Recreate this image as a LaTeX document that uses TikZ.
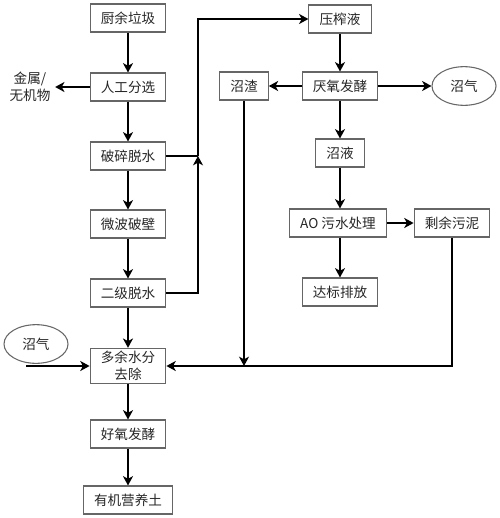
\documentclass[tikz,border=0pt]{standalone}
\usepackage{fontspec}
\setmainfont{Noto Sans CJK SC}
\usetikzlibrary{arrows.meta,shapes.geometric}

\tikzset{
  box/.style={draw=black!60, line width=0.8pt, inner xsep=8pt, inner ysep=2pt,
    minimum height=21pt, font=\fontsize{10.2}{13}\selectfont, text=black!85, align=center},
  gas/.style={ellipse, draw=black!60, line width=0.8pt, minimum width=48pt,
    minimum height=29pt, font=\fontsize{10.2}{13}\selectfont, text=black!85},
  flow/.style={line width=1.8pt, -{Stealth[length=7pt,width=7.5pt,inset=2pt]}},
  plain/.style={line width=1.8pt}
}

\begin{document}
\begin{tikzpicture}[x=0.75pt, y=-0.75pt]
        \useasboundingbox (0,0) rectangle (500,518);

        % Main line (left column)
        \node[box] (cyl)   at (128,18)  {厨余垃圾};
        \node[box] (rgfx)  at (128,87)  {人工分选};
        \node[box] (psts)  at (128,156) {破碎脱水};
        \node[box] (wbpb)  at (128,224) {微波破壁};
        \node[box] (ejts)  at (128,293) {二级脱水};
        \node[box] (dysf)  at (128,366) {多余水分\\去除};
        \node[box] (hyfj)  at (128,434) {好氧发酵};
        \node[box] (yjyyt) at (128,500) {有机营养土};

        \node[font=\fontsize{10.2}{13}\selectfont, text=black!85, align=center] (jsw) at (30,87) {金属/\\无机物};
        \node[gas] (zqa) at (36,344) {沼气};
        \coordinate (zqin) at (26,366);

        % Liquid line (right column)
        \node[box] (yzy)  at (340,19)  {压榨液};
        \node[box] (yyfj) at (340,86)  {厌氧发酵};
        \node[box] (zz)   at (244,86)  {沼渣};
        \node[gas] (zqb)  at (464,86)  {沼气};
        \node[box] (zy)   at (340,153) {沼液};
        \node[box] (ao)   at (338,223) {AO 污水处理};
        \node[box] (sywn) at (452,223) {剩余污泥};
        \node[box] (dbpf) at (340,292) {达标排放};

        \coordinate (jn) at (198,156);

        % Arrows, left column
        \foreach \a/\b in {cyl/rgfx, rgfx/psts, psts/wbpb, wbpb/ejts, ejts/dysf, dysf/hyfj, hyfj/yjyyt} {
            \draw[flow] (\a) -- (\b);
        }
        \draw[flow] (rgfx) -- (jsw);
        \draw[flow] (zqin) -- (dysf.west |- zqin);

        % Press liquid goes up and over
        \draw[plain] (psts) -- (jn);
        \draw[flow] (ejts.east) -| (jn);
        \draw[flow] (jn) |- (yzy);

        % Arrows, right column
        \draw[flow] (yzy) -- (yyfj);
        \draw[flow] (yyfj) -- (zz);
        \draw[flow] (yyfj) -- (zqb);
        \draw[flow] (yyfj) -- (zy);
        \draw[flow] (zy.south) -- (zy.south |- ao.north);
        \draw[flow] (ao) -- (sywn);
        \draw[flow] (zy.south |- ao.south) -- (dbpf);

        % Returns to water removal
        \draw[flow] (zz.south) -- (zz.south |- dysf.east);
        \draw[flow] (sywn.south) |- (dysf.east);
\end{tikzpicture}
\end{document}
